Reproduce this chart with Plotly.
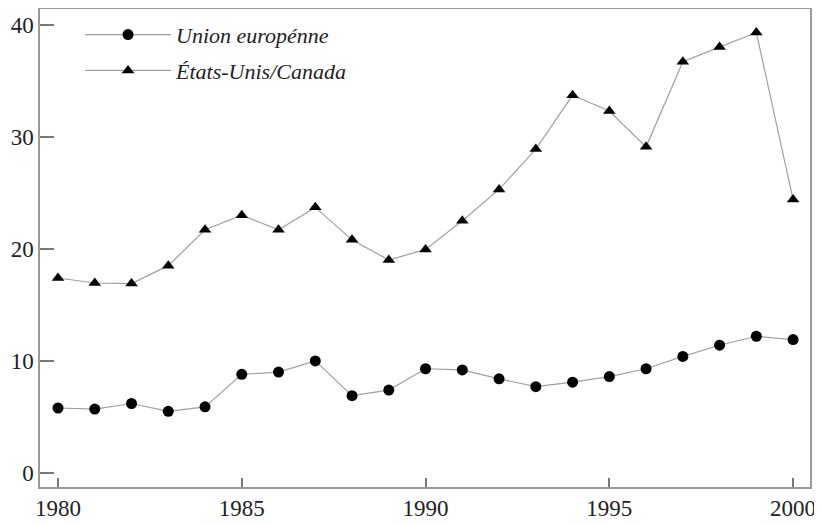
import plotly.graph_objects as go

years = list(range(1980, 2001))
union_europeenne = [5.8, 5.7, 6.2, 5.5, 5.9, 8.8, 9.0, 10.0, 6.9, 7.4,
                    9.3, 9.2, 8.4, 7.7, 8.1, 8.6, 9.3, 10.4, 11.4, 12.2, 11.9]
etats_unis_canada = [17.4, 16.95, 16.9, 18.5, 21.7, 23.0, 21.7, 23.7, 20.8, 19.0,
                     19.95, 22.5, 25.3, 28.9, 33.7, 32.3, 29.1, 36.7, 38.0, 39.3, 24.4]
x_ticks = [1980, 1985, 1990, 1995, 2000]
y_ticks = [0, 10, 20, 30, 40]

fig = go.Figure()
fig.add_trace(go.Scatter(
    x=years, y=union_europeenne, name="Union europénne",
    mode="lines+markers", legend="legend",
    line=dict(color="#a0a0a0", width=1.2),
    marker=dict(symbol="circle", size=11, color="black"),
))
fig.add_trace(go.Scatter(
    x=years, y=etats_unis_canada, name="États-Unis/Canada",
    mode="lines+markers", legend="legend2",
    line=dict(color="#a0a0a0", width=1.2),
    marker=dict(symbol="triangle-up", size=11, color="black"),
))

axis_common = dict(
    showgrid=False, zeroline=False, automargin=False,
    showline=True, linecolor="#9a9a9a", linewidth=1.5, mirror=True,
    ticks="inside", tickcolor="#777777", tickwidth=1.5,
    tickfont=dict(family="Liberation Serif", size=23, color="#222222"),
)
fig.update_xaxes(range=[1979.51, 2000.46], tickvals=x_ticks, ticklen=9, **axis_common)
fig.update_yaxes(range=[-1.25, 41.4], tickvals=y_ticks, ticklen=14, **axis_common)

legend_font = dict(family="Liberation Serif", size=22, color="#222222", style="italic")
legend_common = dict(
    xanchor="left", yanchor="middle",
    bgcolor="rgba(0,0,0,0)", font=legend_font, itemwidth=86,
)
fig.update_layout(
    width=822, height=525,
    margin=dict(l=32, r=20, t=1, b=46),
    paper_bgcolor="white", plot_bgcolor="white",
    showlegend=True,
    legend=dict(x=0.052, y=0.946, **legend_common),
    legend2=dict(x=0.052, y=0.871, **legend_common),
)

fig.write_html("out.html")
